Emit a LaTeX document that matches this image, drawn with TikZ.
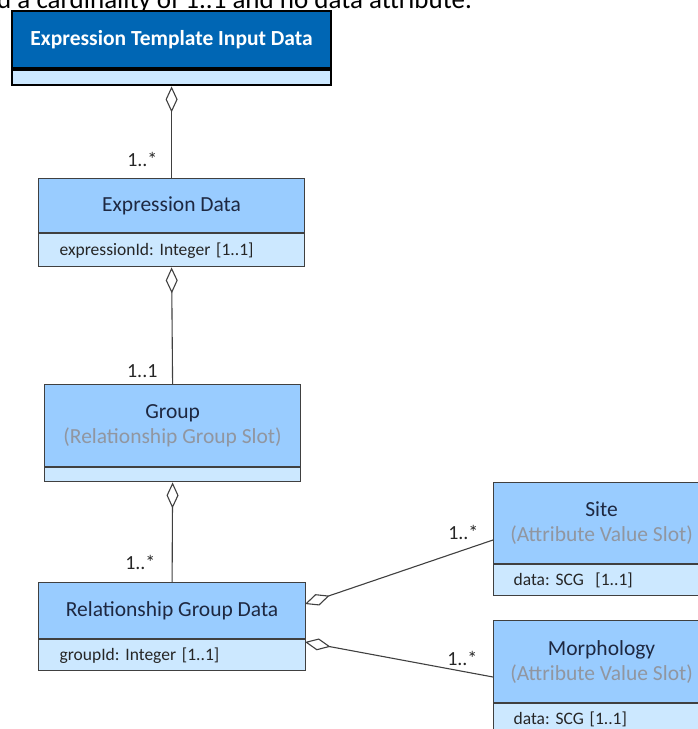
\documentclass[tikz,border=0pt]{standalone}
\usepackage{fontspec}
\setmainfont{Carlito}
\usetikzlibrary{arrows.meta}
\definecolor{hdrblue}{RGB}{153,204,255}
\definecolor{cmpblue}{RGB}{204,232,255}
\definecolor{darkhdr}{RGB}{0,102,180}
\definecolor{edge}{RGB}{64,64,64}
\definecolor{subgray}{RGB}{145,150,160}
\definecolor{navytext}{RGB}{30,40,65}
\frenchspacing
\begin{document}
\begin{tikzpicture}[x=1pt,y=-1pt,
  hdr/.style={draw=edge, line width=1.2pt, fill=hdrblue, anchor=north west, inner sep=0pt, align=center, font=\fontsize{21.5}{25}\selectfont, text=navytext},
  cmp/.style={draw=edge, line width=1.2pt, fill=cmpblue, anchor=north west, inner sep=0pt, font=\fontsize{17.5}{20}\selectfont, text=black!85},
  mult/.style={font=\fontsize{20}{24}\selectfont, text=black!85},
  agg/.style={draw=edge, line width=1.1pt, -{Diamond[open, fill=white, length=26pt, width=12pt, line width=1.1pt]}}
]
\useasboundingbox (0,0) rectangle (698,729);
\clip (0,0) rectangle (698,729);
% cut-off text at the top
\node[anchor=base west, inner sep=0pt, font=\fontsize{27}{30}\selectfont] (toptext) at (-3,8) {d a cardinality of 1..1 and no data attribute.};
% Expression Template Input Data
\node[draw=black, line width=2.2pt, fill=darkhdr, anchor=north west, inner sep=0pt, minimum width=319pt, minimum height=57pt, text=white, font=\bfseries\fontsize{21.5}{25}\selectfont] (etid) at (11,10) {Expression Template Input Data};
\node[draw=black, line width=2.2pt, fill=cmpblue, anchor=north west, inner sep=0pt, minimum width=319pt, minimum height=15pt] (etidc) at (etid.south west) {};
% Expression Data
\node[hdr, minimum width=266pt, minimum height=54pt] (ed) at (38,178) {Expression Data};
\node[cmp, minimum width=266pt, minimum height=33pt, text width=224pt, align=left] (edc) at (ed.south west) {expressionId: Integer [1..1]};
% Group
\node[hdr, minimum width=256pt, minimum height=82pt] (grp) at (44,384) {Group\\{\color{subgray}(Relationship Group Slot)}};
\node[cmp, minimum width=256pt, minimum height=14pt] (grpc) at (grp.south west) {};
% Relationship Group Data
\node[hdr, minimum width=267pt, minimum height=56pt] (rgd) at (38,582) {Relationship Group Data};
\node[cmp, minimum width=267pt, minimum height=31pt, text width=225pt, align=left] (rgdc) at (rgd.south west) {groupId: Integer [1..1]};
% Site
\node[hdr, minimum width=216pt, minimum height=81pt] (site) at (493,482) {Site\\{\color{subgray}(Attribute Value Slot)}};
\node[cmp, minimum width=216pt, minimum height=31pt, text width=176pt, align=left] (sitec) at (site.south west) {data: SCG\ \ [1..1]};
% Morphology
\node[hdr, minimum width=216pt, minimum height=82pt] (morph) at (493,620) {Morphology\\{\color{subgray}(Attribute Value Slot)}};
\node[cmp, minimum width=216pt, minimum height=31pt, text width=176pt, align=left] (morphc) at (morph.south west) {data: SCG [1..1]};
% connectors
\coordinate (rgdA) at (305,604);
\coordinate (rgdB) at (305,642);
\coordinate (siteA) at (493,540);
\coordinate (morphA) at (493,677);
\draw[agg] (ed.north) -- (etidc.south);
\draw[agg] (grp.north) -- (edc.south);
\draw[agg] (rgd.north) -- (grpc.south);
\draw[agg] (siteA) -- (rgdA);
\draw[agg] (morphA) -- (rgdB);
% multiplicities
\node[mult, anchor=base east] (m1) at (161,166) {1..*};
\node[mult, anchor=base east] (m2) at (161,377) {1..1};
\node[mult, anchor=base east] (m3) at (159,569) {1..*};
\node[mult, anchor=base east] (m4) at (482,539) {1..*};
\node[mult, anchor=base east] (m5) at (481,665) {1..*};
\end{tikzpicture}
\end{document}
